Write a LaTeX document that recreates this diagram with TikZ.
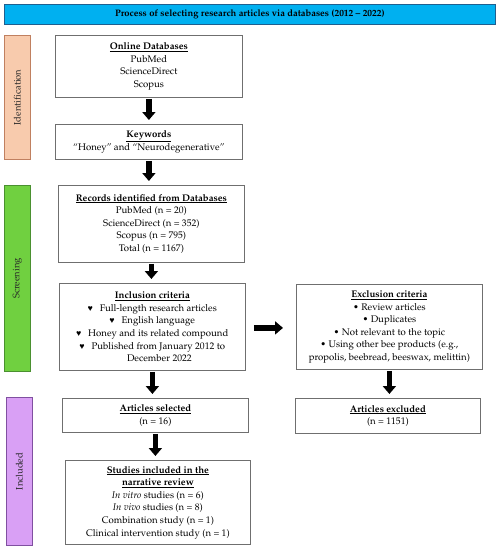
\documentclass[tikz,border=0pt]{standalone}
\usepackage[T1]{fontenc}
\usepackage{mathpazo}
\usepackage{textcomp}
\usepackage{pifont}
\usetikzlibrary{arrows.meta}
\definecolor{titlefill}{HTML}{00B0F0}
\definecolor{titleedge}{HTML}{1F5F8F}
\definecolor{identfill}{HTML}{F8CBAD}
\definecolor{identedge}{HTML}{C08060}
\definecolor{screenfill}{HTML}{70D040}
\definecolor{screenedge}{HTML}{4A9030}
\definecolor{inclfill}{HTML}{D9A0F5}
\definecolor{incledge}{HTML}{8050A0}
\definecolor{boxedge}{HTML}{6F6F6F}
\newcommand{\hd}[1]{\underline{\textbf{#1}}}
\newcommand{\hrt}{{\scriptsize\ding{170}}\hspace{7pt}}
\tikzset{
  box/.style={draw=boxedge, line width=0.8pt, align=center, anchor=north west,
    inner sep=0pt, font=\fontsize{9.6}{12.6}\selectfont},
  sidebar/.style={line width=0.8pt, anchor=north west, inner sep=0pt},
  sidelabel/.style={rotate=90, font=\fontsize{9.4}{11}\selectfont, text=black!85},
  blockarrow/.style={line width=5.5pt, -{Triangle[length=8pt,width=13pt]}, black}
}
\begin{document}
\begin{tikzpicture}[x=1pt,y=1pt]
\useasboundingbox (0,0) rectangle (499,-550);
% title
\node[draw=titleedge, fill=titlefill, line width=0.8pt, anchor=north west, inner sep=0pt,
  minimum width=491pt, minimum height=20pt, font=\fontsize{9.4}{11}\selectfont\bfseries]
  (title) at (4,-4) {Process of selecting research articles via databases (2012 -- 2022)};
% side bars
\node[sidebar, draw=identedge, fill=identfill, minimum width=26pt, minimum height=124pt] (idbar) at (4,-35) {};
\node[sidelabel] (idlab) at (idbar.center) {Identification};
\node[sidebar, draw=screenedge, fill=screenfill, minimum width=26pt, minimum height=186pt] (scbar) at (4,-185) {};
\node[sidelabel] (sclab) at (scbar.center) {Screening};
\node[sidebar, draw=incledge, fill=inclfill, minimum width=26pt, minimum height=148pt] (inbar) at (6,-397) {};
\node[sidelabel] (inlab) at (inbar.center) {Included};
% boxes
\node[box, minimum width=187pt, minimum height=62pt] (online) at (55,-35)
  {\hd{Online Databases}\\PubMed\\ScienceDirect\\Scopus};
\node[box, minimum width=187pt, minimum height=35pt] (keys) at (55,-124)
  {\hd{Keywords}\\``Honey'' and ``Neurodegenerative''};
\node[box, minimum width=186pt, minimum height=77pt] (records) at (58,-185)
  {\hd{Records identified from Databases}\\PubMed (n = 20)\\ScienceDirect (n = 352)\\Scopus (n = 795)\\Total (n = 1167)};
\node[box, minimum width=186pt, minimum height=87pt] (incl) at (59,-283)
  {\hd{Inclusion criteria}\\\hrt Full-length research articles\\\hrt English language\\\hrt Honey and its related compound\\\hrt Published from January 2012 to\\\hspace{14pt}December 2022};
\node[box, minimum width=186pt, minimum height=85pt] (excl) at (296,-284)
  {\hd{Exclusion criteria}\\\textbullet\ Review articles\\\textbullet\ Duplicates\\\textbullet\ Not relevant to the topic\\\textbullet\ Using other bee products (e.g.,\\propolis, beebread, beeswax, melittin)};
\node[box, minimum width=186pt, minimum height=34pt] (sel) at (62,-398)
  {\hd{Articles selected}\\(n = 16)};
\node[box, minimum width=185pt, minimum height=35pt] (exd) at (295,-398)
  {\hd{Articles excluded}\\(n = 1151)};
\node[box, minimum width=185pt, minimum height=84pt] (stud) at (65,-460)
  {\hd{Studies included in the}\\\hd{narrative review}\\\textit{In vitro} studies (n = 6)\\\textit{In vivo} studies (n = 8)\\Combination study (n = 1)\\Clinical intervention study (n = 1)};
% arrows
\draw[blockarrow] ([yshift=-1pt]online.south) -- ([yshift=4pt]online.south |- keys.north);
\draw[blockarrow] ([yshift=-1pt]keys.south) -- ([yshift=4pt]keys.south |- records.north);
\draw[blockarrow] ([yshift=-1pt]records.south) -- ([yshift=4pt]records.south |- incl.north);
\draw[blockarrow] ([yshift=-1pt]incl.south) -- ([yshift=4pt]incl.south |- sel.north);
\draw[blockarrow] ([yshift=-1pt]excl.south) -- ([yshift=4pt]excl.south |- exd.north);
\draw[blockarrow] ([yshift=-1pt]sel.south) -- ([yshift=4pt]sel.south |- stud.north);
\draw[blockarrow] ([xshift=8pt,yshift=-1pt]incl.east) -- ([xshift=-13pt,yshift=-1pt]incl.east -| excl.west);
\end{tikzpicture}
\end{document}
